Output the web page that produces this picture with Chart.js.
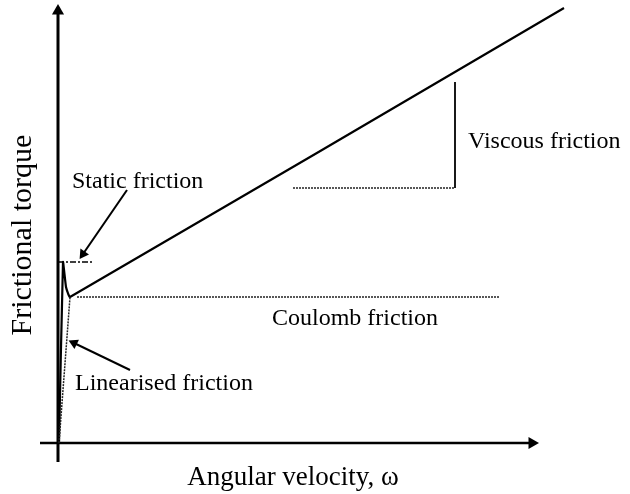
<!DOCTYPE html>
<html>
<head>
<meta charset="utf-8">
<script src="https://cdn.jsdelivr.net/npm/chart.js@4/dist/chart.umd.min.js"></script>
<style>
    body { margin: 0; background: #fff; }
    #wrap { width: 630px; height: 494px; }
</style>
</head>
<body>
<div id="wrap"><canvas id="frictionChart" width="630" height="494"></canvas></div>
<script>
// friction curve: rise to static peak, drop to Coulomb level, then viscous slope
const omega = [0.1, 0.5, 0.8, 1.2, 50.6];
const torque = [0, 18.1, 15.6, 14.6, 43.5];

const coulombOmega = [1.9, 44.2];
const coulombTorque = [14.6, 14.6];

const staticOmega = [0, 3.4];
const staticTorque = [18.1, 18.1];

const linearOmega = [0.1, 1.2];
const linearTorque = [0, 14.6];

// slope triangle for the viscous part
const viscousRunOmega = [23.5, 39.7];
const viscousRunTorque = [25.5, 25.5];
const viscousRiseOmega = [39.7, 39.7];
const viscousRiseTorque = [25.5, 36.1];

const xAxisOmega = [-1.8, 47.4];
const xAxisTorque = [0, 0];
const yAxisOmega = [0, 0];
const yAxisTorque = [-1.9, 43.2];

const staticArrowOmega = [6.9, 2.5];
const staticArrowTorque = [25.3, 18.9];
const linearArrowOmega = [7.2, 1.6];
const linearArrowTorque = [7.3, 10.0];

const labels = [
    { text: 'Static friction', x: 1.4, y: 25.5, size: 24, align: 'left' },
    { text: 'Linearised friction', x: 1.7, y: 5.3, size: 24, align: 'left' },
    { text: 'Coulomb friction', x: 21.4, y: 11.8, size: 24, align: 'left' },
    { text: 'Viscous friction', x: 41.0, y: 29.5, size: 24, align: 'left' },
    { text: 'Angular velocity, ω', x: 23.5, y: -4.2, size: 27, align: 'center' },
    { text: 'Frictional torque', x: -3.5, y: 20.8, size: 30, align: 'center', rotate: true }
];

const toPoints = (xs, ys) => xs.map((x, i) => ({ x: x, y: ys[i] }));

const segment = (xs, ys, extra) => Object.assign({
    data: toPoints(xs, ys),
    showLine: true,
    borderColor: '#000',
    backgroundColor: '#000',
    borderWidth: 1,
    pointRadius: 0,
    tension: 0
}, extra);

const dotted = { borderDash: [2, 1], borderWidth: 1.5, borderColor: '#222' };

const arrowTip = (rotation, radius) => ({
    pointRadius: [0, radius],
    pointStyle: 'triangle',
    pointRotation: rotation,
    pointBorderWidth: 0
});

const textPlugin = {
    id: 'textLabels',
    afterDatasetsDraw(chart) {
        const ctx = chart.ctx;
        const xs = chart.scales.x;
        const ys = chart.scales.y;
        ctx.save();
        ctx.fillStyle = '#000';
        labels.forEach(label => {
            const px = xs.getPixelForValue(label.x);
            const py = ys.getPixelForValue(label.y);
            ctx.font = label.size + 'px "Liberation Serif", "Times New Roman", serif';
            ctx.save();
            ctx.translate(px, py);
            if (label.rotate) {
                ctx.rotate(-Math.PI / 2);
                ctx.textBaseline = 'middle';
            } else {
                ctx.textBaseline = 'alphabetic';
            }
            ctx.textAlign = label.align;
            ctx.fillText(label.text, 0, 0);
            ctx.restore();
        });
        ctx.restore();
    }
};

new Chart(document.getElementById('frictionChart').getContext('2d'), {
    type: 'scatter',
    data: {
        datasets: [
            segment(coulombOmega, coulombTorque, dotted),
            segment(staticOmega, staticTorque, { borderDash: [6, 2, 2, 2], borderWidth: 1.5 }),
            segment(linearOmega, linearTorque, dotted),
            segment(viscousRunOmega, viscousRunTorque, dotted),
            segment(viscousRiseOmega, viscousRiseTorque, { borderWidth: 1.8 }),
            segment(omega, torque, { borderWidth: 2.2, tension: 0.1 }),
            segment(xAxisOmega, xAxisTorque, Object.assign({ borderWidth: 2.5 }, arrowTip(90, 7))),
            segment(yAxisOmega, yAxisTorque, Object.assign({ borderWidth: 3 }, arrowTip(0, 7))),
            segment(staticArrowOmega, staticArrowTorque, Object.assign({ borderWidth: 2 }, arrowTip(214.5, 6))),
            segment(linearArrowOmega, linearArrowTorque, Object.assign({ borderWidth: 2 }, arrowTip(295.8, 6)))
        ]
    },
    options: {
        responsive: false,
        animation: false,
        layout: { padding: 0, autoPadding: false },
        plugins: {
            legend: { display: false },
            tooltip: { enabled: false }
        },
        scales: {
            x: { type: 'linear', display: false, min: -5.8, max: 57.2 },
            y: { type: 'linear', display: false, min: -5.1, max: 44.3 }
        }
    },
    plugins: [textPlugin]
});
</script>
</body>
</html>
